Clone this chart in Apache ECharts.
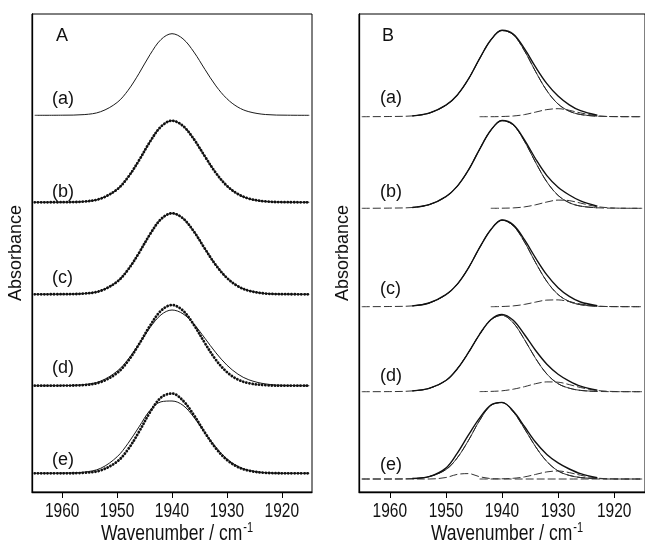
<!DOCTYPE html>
<html>
<head>
<meta charset="utf-8">
<script src="https://cdn.jsdelivr.net/npm/echarts@6/dist/echarts.min.js"></script>
<style>
html, body { margin: 0; padding: 0; background: #fff; }
#chart { width: 645px; height: 545px; }
</style>
</head>
<body>
<div id="chart"></div>
<script>
// wavenumber grid (cm-1), shared by every trace
var wn = [1965, 1960, 1956, 1953, 1950, 1948, 1946, 1944, 1942, 1940, 1938, 1936, 1934, 1932, 1930, 1928, 1926, 1923, 1919, 1915];
var xTicks = [1960, 1950, 1940, 1930, 1920];
var traceLabels = ['(a)', '(b)', '(c)', '(d)', '(e)'];

// baselines of the stacked traces (same units as the y axis)
var offsetsA = [376.7, 289.7, 197.7, 106.3, 18.7];
var offsetsB = [375.3, 283.7, 185.3, 100.3, 13];

// panel A : measured (dots) and fitted (line) bands
var A_a_fit  = [0, 0.1, 0.7, 3.6, 12.8, 25.0, 41.9, 60.7, 75.8, 81.6, 76.5, 63.2, 45.9, 29.4, 16.6, 8.2, 3.6, 0.8, 0.1, 0];
var A_b_data = [0, 0.1, 0.8, 3.7, 12.9, 25.2, 42.0, 60.6, 75.7, 81.6, 76.4, 63.0, 45.8, 29.3, 16.5, 8.3, 3.7, 0.9, 0.1, 0];
var A_b_fit  = [0, 0.1, 0.7, 3.6, 12.8, 25.0, 41.9, 60.7, 75.8, 81.6, 76.5, 63.2, 45.9, 29.4, 16.6, 8.2, 3.6, 0.8, 0.1, 0];
var A_c_data = [0, 0.1, 0.7, 3.5, 12.6, 24.7, 41.5, 60.1, 75.2, 81.0, 75.9, 62.7, 45.5, 29.1, 16.4, 8.1, 3.6, 0.8, 0.1, 0];
var A_c_fit  = [0, 0.1, 0.7, 3.5, 12.7, 24.8, 41.6, 60.2, 75.2, 81.0, 75.9, 62.8, 45.6, 29.2, 16.5, 8.1, 3.6, 0.8, 0.1, 0];
var A_d_data = [0, 0.1, 0.7, 3.6, 12.7, 24.7, 41.5, 60.0, 75.0, 80.7, 75.1, 60.7, 42.5, 25.8, 13.6, 6.2, 2.5, 0.5, 0, 0];
var A_d_fit  = [0, 0.1, 1.1, 4.6, 14.5, 26.3, 41.8, 58.1, 70.9, 75.7, 71.9, 61.5, 47.4, 32.9, 20.6, 11.6, 5.9, 1.8, 0.2, 0];
var A_e_data = [0, 0, 0.5, 2.9, 11.7, 24.0, 41.6, 61.1, 75.8, 79.8, 72.7, 58.1, 40.6, 24.9, 13.4, 6.3, 2.6, 0.5, 0, 0];
var A_e_fit  = [0, 0.2, 1.2, 5.0, 16.5, 30.0, 46.5, 63.0, 71.5, 72.3, 68.0, 56.0, 40.5, 26.0, 14.5, 7.0, 3.0, 0.6, 0, 0];

// panel B : envelope, main component, minor components
var B_a_env   = [null, null, 0.8, 3.5, 11.5, 21.5, 37.5, 58, 76.7, 86.4, 82.7, 68.1, 49.6, 33.1, 20.7, 11.9, 6.0, 1.4, null, null];
var B_a_main  = [0, 0.2, 0.8, 3.5, 11.5, 21.5, 37.5, 58, 76.7, 86.2, 82, 66, 45, 26, 12.7, 5.5, 2.2, 0.5, 0.1, 0];
var B_a_minor = [null, null, null, null, null, null, null, 0, 0, 0.2, 0.7, 2.1, 4.6, 7.1, 8.0, 6.4, 3.8, 0.9, 0, 0];
var B_b_env   = [null, null, 0.8, 3.6, 11.7, 21.9, 38.1, 59, 78, 87.8, 83.8, 68.5, 49.3, 32.7, 21.1, 13.3, 7.4, 2.1, null, null];
var B_b_main  = [0, 0.2, 0.8, 3.6, 11.7, 21.9, 38.1, 59, 78, 87.7, 83.4, 67.1, 45.8, 26.4, 12.9, 5.6, 2.2, 0.5, 0.1, 0];
var B_b_minor = [null, null, null, null, null, null, null, null, 0, 0.1, 0.4, 1.4, 3.5, 6.3, 8.2, 7.7, 5.2, 1.6, 0.1, 0];
var B_c_env   = [null, null, 0.8, 3.7, 12, 22.3, 38.6, 59, 77, 86.7, 81.8, 67.1, 48.6, 31.8, 19, 10.3, 4.7, 1, null, null];
var B_c_main  = [0, 0.2, 0.8, 3.7, 12, 22.3, 38.6, 59, 77, 86.5, 81, 64.8, 44, 25.2, 12.2, 5.2, 2, 0.4, 0.1, 0];
var B_c_minor = [null, null, null, null, null, null, null, null, 0, 0.2, 0.8, 2.3, 4.6, 6.6, 6.8, 5.1, 2.7, 0.6, 0, 0];
var B_d_env   = [null, null, 0.8, 3.3, 11.2, 22.7, 39, 57.4, 72, 77.3, 71.4, 57.2, 41.2, 27.5, 17.5, 10.6, 5.5, 1.5, null, null];
var B_d_main  = [0, 0.1, 0.8, 3.3, 11.2, 22.7, 39, 57.3, 71.7, 76.4, 68.9, 52.2, 33.2, 17.7, 8, 3.5, 1.3, 0.3, 0, 0];
var B_d_minor = [null, null, null, null, null, null, null, 0.1, 0.3, 0.9, 2.5, 5.0, 8.0, 9.8, 9.5, 7.1, 4.2, 1.2, 0.1, 0];
var B_e_env    = [null, null, 0.5, 2.4, 10.9, 25.6, 43.8, 60.8, 73.9, 76.6, 67.9, 52.5, 36.8, 24.6, 16.1, 10.0, 5.3, 1.3, null, null];
var B_e_main   = [0, 0, 0.5, 2.4, 9.4, 21.0, 38.4, 58.5, 73.5, 76.4, 67.2, 50.4, 32.2, 17.5, 8.1, 3.6, 1.5, 0.4, 0, 0];
var B_e_minor1 = [0, 0, 0, 0, 1.5, 4.6, 5.4, 2.3, 0.4, 0, 0, 0, 0, 0, 0, 0, 0, 0, 0, 0];
var B_e_minor2 = [null, null, null, null, null, null, null, 0, 0, 0.2, 0.7, 2.1, 4.6, 7.1, 8.0, 6.4, 3.8, 0.9, 0, 0];

var FONT = 'Liberation Sans, Arial, Helvetica, sans-serif';

var thin  = { color: '#1a1a1a', width: 1 };
var dots  = { color: '#111', width: 2.8, type: [0.1, 3.1], cap: 'round' };
var env   = { color: '#111', width: 1.4 };
var thinB = { color: '#222', width: 0.9 };
var comp  = { color: '#333', width: 1, type: [8, 3] };

function pts(vals, off) {
    var out = [];
    for (var i = 0; i < wn.length; i++) {
        if (vals[i] == null) continue;
        out.push([wn[i], vals[i] + off]);
    }
    return out;
}

// keep only the part of a component that lies under the envelope
function mid(vals) {
    return vals.map(function (v, i) { return (i >= 2 && i <= 17) ? v : null; });
}

function line(g, vals, off, style) {
    return {
        type: 'line',
        xAxisIndex: g,
        yAxisIndex: g,
        data: pts(vals, off),
        symbol: 'none',
        showSymbol: false,
        smooth: 0.35,
        silent: true,
        lineStyle: style
    };
}

var series = [
    line(0, A_a_fit, offsetsA[0], thin),
    line(0, A_b_fit, offsetsA[1], thin),
    line(0, A_b_data, offsetsA[1], dots),
    line(0, A_c_fit, offsetsA[2], thin),
    line(0, A_c_data, offsetsA[2], dots),
    line(0, A_d_fit, offsetsA[3], thin),
    line(0, A_d_data, offsetsA[3], dots),
    line(0, A_e_fit, offsetsA[4], thin),
    line(0, A_e_data, offsetsA[4], dots)
];

var panelB = [
    [B_a_env, B_a_main, [B_a_minor]],
    [B_b_env, B_b_main, [B_b_minor]],
    [B_c_env, B_c_main, [B_c_minor]],
    [B_d_env, B_d_main, [B_d_minor]],
    [B_e_env, B_e_main, [B_e_minor1, B_e_minor2]]
];
panelB.forEach(function (tr, k) {
    var off = offsetsB[k];
    series.push(line(1, tr[1], off, comp));
    series.push(line(1, mid(tr[1]), off, thinB));
    tr[2].forEach(function (m) { series.push(line(1, m, off, comp)); });
    series.push(line(1, tr[0], off, env));
});

function xAx(g) {
    return {
        type: 'value',
        gridIndex: g,
        min: 1914.5,
        max: 1965.5,
        inverse: true,
        axisLine: { show: true, lineStyle: { color: '#000', width: 1.3 } },
        axisTick: { show: true, inside: false, length: 6, customValues: xTicks, lineStyle: { color: '#000', width: 1 } },
        axisLabel: { show: false, customValues: xTicks },
        splitLine: { show: false }
    };
}

function yAx(g) {
    return {
        type: 'value',
        gridIndex: g,
        min: 0,
        max: 478,
        axisLine: { show: true, lineStyle: { color: '#000', width: 1.3 } },
        axisTick: { show: false },
        axisLabel: { show: false },
        splitLine: { show: false },
        name: 'Absorbance',
        nameLocation: 'middle',
        nameGap: 7,
        nameTextStyle: { fontSize: 18, color: '#111', fontFamily: FONT }
    };
}

var chart = echarts.init(document.getElementById('chart'));
chart.setOption({
    animation: false,
    backgroundColor: '#fff',
    grid: [
        { left: 32, top: 14, width: 280, height: 478, show: true, borderColor: '#000', borderWidth: 1 },
        { left: 359, top: 14, width: 289, height: 478, show: true, borderColor: '#000', borderWidth: 1 }
    ],
    xAxis: [xAx(0), xAx(1)],
    yAxis: [yAx(0), yAx(1)],
    series: series
});

// texts: the scanned figure has tall, narrow lettering, so x-axis texts get a vertical stretch
var graphic = [];
function addText(t, x, y, size, opts) {
    opts = opts || {};
    graphic.push({
        type: 'text',
        x: x,
        y: y,
        scaleY: opts.sy || 1,
        silent: true,
        style: {
            text: t, fontSize: size, fontFamily: FONT, fill: '#111',
            align: opts.align || 'left', verticalAlign: 'middle',
            rich: opts.rich
        }
    });
}
addText('A', 56, 36, 18);
addText('B', 382, 36, 18);
var labYA = [99, 192, 278, 368, 460];
var labYB = [98, 192, 289, 376, 465];
for (var i = 0; i < traceLabels.length; i++) {
    addText(traceLabels[i], 52, labYA[i], 18);
    addText(traceLabels[i], 380, labYB[i], 18);
}
var nameRich = {
    n: { fontSize: 17.5, fontFamily: FONT, fill: '#111' },
    s: { fontSize: 11, fontFamily: FONT, fill: '#111', padding: [0, 0, 10, 1] }
};
[0, 1].forEach(function (g) {
    xTicks.forEach(function (v) {
        var px = chart.convertToPixel({ xAxisIndex: g }, v);
        addText(String(v), px, 511, 15.5, { align: 'center', sy: 1.3 });
    });
    var c = chart.convertToPixel({ xAxisIndex: g }, 1940);
    addText('{n|Wavenumber / cm}{s|-1}', c + 5, 534, 17.5, { align: 'center', sy: 1.25, rich: nameRich });
});
chart.setOption({ graphic: graphic });
</script>
</body>
</html>
